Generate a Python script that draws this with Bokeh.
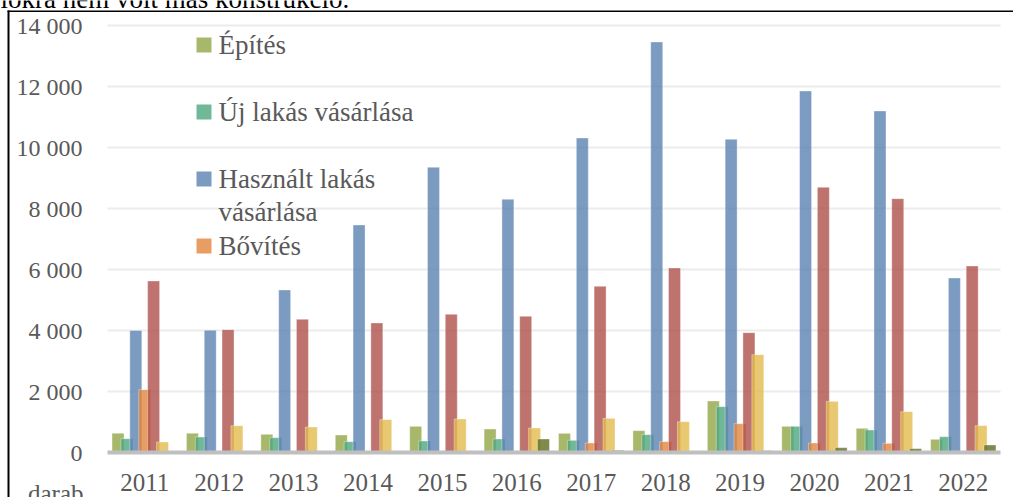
from bokeh.plotting import figure
from bokeh.models import Range1d, FixedTicker, Label, BoxAnnotation, ColumnDataSource
from bokeh.transform import dodge
from bokeh.embed import file_html
from bokeh.resources import INLINE

# ---- data ----
years = ["2011", "2012", "2013", "2014", "2015", "2016",
         "2017", "2018", "2019", "2020", "2021", "2022"]
epites = [630, 630, 596, 574, 858, 770, 628, 716, 1689, 858, 792, 432]
uj_lakas = [453, 508, 486, 355, 377, 443, 399, 585, 1503, 858, 738, 519]
hasznalt_lakas = [4000, 4005, 5328, 7459, 9350, 8301, 10311, 13459, 10268, 11852, 11197, 5721]
bovites = [2060, 0, 0, 0, 0, 0, 311, 355, 945, 311, 300, 0]
series_red = [5623, 4027, 4366, 4246, 4530, 4464, 5448, 6049, 3929, 8694, 8322, 6115]
series_yellow = [344, 880, 836, 1077, 1098, 803, 1120, 1011, 3208, 1678, 1339, 880]
series_olive = [0, 0, 0, 0, 0, 443, 71, 50, 60, 158, 126, 246]

y_ticks = [0, 2000, 4000, 6000, 8000, 10000, 12000, 14000]
y_tick_labels = ["0", "2 000", "4 000", "6 000", "8 000", "10 000", "12 000", "14 000"]

legend_labels = ["Építés", "Új lakás vásárlása", ["Használt lakás", "vásárlása"], "Bővítés"]
y_unit = "darab"
top_text = "lokra nem volt más konstrukció."

# ---- styling ----
series = [
    ("epites", epites, "#92A645"),
    ("uj_lakas", uj_lakas, "#4CA67E"),
    ("hasznalt_lakas", hasznalt_lakas, "#5B82B0"),
    ("bovites", bovites, "#E2843B"),
    ("red", series_red, "#AE504A"),
    ("yellow", series_yellow, "#E2BA4C"),
    ("olive", series_olive, "#5E6D22"),
]
FONT = "Liberation Serif"
TXT = "#595959"

W, H = 1013, 497
# plot area inside the canvas (pixels): left 107, right 1000, top 25 (=14000), bottom 452 (=0)
PL, PR, PT, PB = 107, 1000, 25, 452
ncat = len(years)
ymax = y_ticks[-1]
ux = (PR - PL) / ncat          # px per category
uy = (PB - PT) / ymax          # px per unit

xc = [k + 0.5 for k in range(ncat)]
data = {"xc": xc}
for key, vals, _ in series:
    data[key] = vals
src = ColumnDataSource(data)

p = figure(x_range=Range1d(-PL / ux, ncat + (W - PR) / ux),
           y_range=Range1d(-(H - PB) / uy, ymax + PT / uy),
           width=W, height=H, output_backend="svg", toolbar_location=None, title=None,
           min_border_left=0, min_border_right=0, min_border_top=0, min_border_bottom=0)
p.outline_line_color = None
p.background_fill_color = "white"
p.border_fill_color = "white"
p.xgrid.visible = False
p.ygrid.visible = False

# horizontal gridlines across the category area
gsrc = ColumnDataSource({"y": y_ticks[1:]})
p.segment(x0=0, x1=ncat, y0="y", y1="y", source=gsrc, line_color="#ECECEC", line_width=2)

step = 0.1195
bw = 0.161
for i, (key, vals, col) in enumerate(series):
    p.vbar(x=dodge("xc", (i - 3) * step), top=key, width=bw, source=src,
           fill_color=col, fill_alpha=0.8, line_color="white", line_alpha=0.35, line_width=1)

# axes (fixed inside the canvas)
p.yaxis.fixed_location = 0
p.yaxis.ticker = FixedTicker(ticks=y_ticks)
p.yaxis.major_label_overrides = {t: l for t, l in zip(y_ticks, y_tick_labels)}
p.yaxis.axis_line_color = None
p.yaxis.major_tick_line_color = None
p.yaxis.minor_tick_line_color = None
p.yaxis.major_tick_out = 0
p.yaxis.major_tick_in = 0
p.yaxis.major_label_standoff = 25
p.yaxis.major_label_text_font = FONT
p.yaxis.major_label_text_font_size = "24px"
p.yaxis.major_label_text_color = TXT

p.xaxis.fixed_location = 0
p.xaxis.bounds = (0, ncat)
p.xaxis.ticker = FixedTicker(ticks=xc)
p.xaxis.major_label_overrides = {x: y for x, y in zip(xc, years)}
p.xaxis.axis_line_color = "#BFBFBF"
p.xaxis.axis_line_width = 4
p.xaxis.major_tick_line_color = None
p.xaxis.minor_tick_line_color = None
p.xaxis.major_tick_out = 0
p.xaxis.major_tick_in = 0
p.xaxis.major_label_standoff = 21
p.xaxis.major_label_text_font = FONT
p.xaxis.major_label_text_font_size = "25px"
p.xaxis.major_label_text_color = TXT

# legend (manual, screen units from the canvas bottom-left)
sq_x0, sq_size, txt_x = 196, 15, 218
sq_bottom0, entry_step, line_step, txt_shift = H - 52, 67, 33, 8
for i, lab in enumerate(legend_labels):
    base = sq_bottom0 - i * entry_step
    col = series[i][2]
    p.add_layout(BoxAnnotation(left=sq_x0, right=sq_x0 + sq_size, bottom=base, top=base + sq_size,
                               left_units="screen", right_units="screen",
                               bottom_units="screen", top_units="screen",
                               fill_color=col, fill_alpha=0.8, line_color=None, level="overlay"))
    lines = lab if isinstance(lab, list) else [lab]
    for j, ln in enumerate(lines):
        p.add_layout(Label(x=txt_x, y=base + txt_shift - j * line_step, x_units="screen", y_units="screen",
                           text=ln, text_font=FONT, text_font_size="27px", text_color=TXT,
                           text_baseline="alphabetic", text_align="left"))

# unit label below the y axis
p.add_layout(Label(x=83, y=4, x_units="screen", y_units="screen", text=y_unit,
                   text_font=FONT, text_font_size="25px", text_color=TXT,
                   text_baseline="alphabetic", text_align="right"))

# fragment of the surrounding paragraph at the very top
p.add_layout(Label(x=0, y=H + 2, x_units="screen", y_units="screen", text=top_text,
                   text_font=FONT, text_font_size="27px", text_color="black",
                   text_baseline="alphabetic", text_align="left"))

# page frame lines (left and top)
p.add_layout(BoxAnnotation(left=7, right=9, bottom=0, top=H - 10,
                           left_units="screen", right_units="screen",
                           bottom_units="screen", top_units="screen",
                           fill_color="black", fill_alpha=1, line_color=None, level="overlay"))
p.add_layout(BoxAnnotation(left=7, right=W, bottom=H - 11.5, top=H - 10,
                           left_units="screen", right_units="screen",
                           bottom_units="screen", top_units="screen",
                           fill_color="black", fill_alpha=1, line_color=None, level="overlay"))

open("out.html", "w").write(file_html(p, INLINE))
